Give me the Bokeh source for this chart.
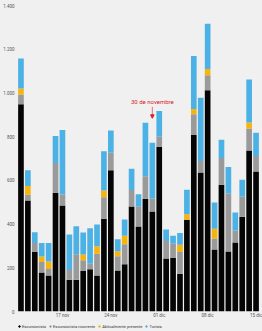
from bokeh.plotting import figure
from bokeh.layouts import column
from bokeh.models import (ColumnDataSource, FixedTicker, Legend, LegendItem,
                          Arrow, NormalHead, Label, Range1d)
from bokeh.embed import file_html
from bokeh.resources import INLINE

dates = ["11 nov", "12 nov", "13 nov", "14 nov", "15 nov", "16 nov", "17 nov",
         "18 nov", "19 nov", "20 nov", "21 nov", "22 nov", "23 nov", "24 nov",
         "25 nov", "26 nov", "27 nov", "28 nov", "29 nov", "30 nov", "01 dic",
         "02 dic", "03 dic", "04 dic", "05 dic", "06 dic", "07 dic", "08 dic",
         "09 dic", "10 dic", "11 dic", "12 dic", "13 dic", "14 dic", "15 dic"]

escursionista = [948, 508, 273, 178, 165, 543, 485, 145, 145, 185, 193, 165,
                 424, 646, 188, 216, 480, 389, 516, 457, 754, 243, 246, 173,
                 420, 807, 636, 1012, 284, 580, 275, 316, 434, 737, 640]
ricorrente = [45, 26, 40, 48, 30, 136, 50, 45, 117, 50, 25, 99,
              99, 80, 65, 92, 76, 90, 103, 60, 46, 80, 64, 99,
              0, 95, 52, 69, 50, 122, 265, 55, 91, 100, 72]
abituale = [27, 40, 0, 26, 34, 0, 0, 0, 0, 26, 0, 35,
            31, 0, 23, 38, 0, 0, 0, 0, 0, 0, 0, 33,
            25, 24, 0, 28, 45, 0, 0, 0, 0, 28, 0]
turista = [137, 72, 50, 61, 84, 124, 295, 162, 128, 100, 163, 99,
           179, 102, 55, 75, 97, 57, 244, 255, 117, 52, 37, 54,
           112, 243, 290, 208, 120, 84, 121, 82, 78, 196, 106]

series_names = ["Escursionista", "Escursionista ricorrente",
                "Abitualmente presente", "Turista"]
series_colors = ["#050505", "#9a9a9a", "#f6b40e", "#4cb2e6"]

tick_dates = ["17 nov", "24 nov", "01 dic", "08 dic", "15 dic"]
y_ticks = [0, 200, 400, 600, 800, 1000, 1200, 1400]

annotation_date = "30 nov"
annotation_text = "30 de novembre"

FONT = "Roboto"
BG = "#f0f0f0"
RED = "#d8202a"

keys = ["esc", "ric", "abi", "tur"]
source = ColumnDataSource(dict(
    x=list(range(len(dates))),
    esc=escursionista, ric=ricorrente, abi=abituale, tur=turista,
))

p = figure(output_backend="svg", toolbar_location=None,
           x_range=Range1d(-0.5, len(dates) - 0.5), y_range=Range1d(0, 1400),
           frame_width=242, frame_height=306,
           min_border_left=16, min_border_right=4, min_border_top=5,
           min_border_bottom=10)
p.background_fill_color = BG
p.border_fill_color = BG
p.outline_line_color = None
p.xgrid.visible = False
p.ygrid.visible = False

p.vbar_stack(keys, x="x", width=0.82, color=series_colors, source=source,
             line_color=None)

# axes
p.yaxis.ticker = FixedTicker(ticks=y_ticks)
p.yaxis.major_label_overrides = {v: f"{v:,}".replace(",", ".") for v in y_ticks}
p.yaxis.axis_line_color = None
p.yaxis.major_tick_line_color = None
p.yaxis.major_tick_out = 0
p.yaxis.major_tick_in = 0
p.yaxis.minor_tick_line_color = None
p.yaxis.minor_tick_out = 0
p.yaxis.minor_tick_in = 0
p.yaxis.major_label_standoff = 3
p.yaxis.major_label_text_font_size = "4.5px"
p.yaxis.major_label_text_color = "#555555"
p.yaxis.major_label_text_font = FONT

xt = [dates.index(d) for d in tick_dates]
p.xaxis.ticker = FixedTicker(ticks=xt)
p.xaxis.major_label_overrides = {i: d for i, d in zip(xt, tick_dates)}
p.xaxis.axis_line_color = None
p.xaxis.major_tick_line_color = None
p.xaxis.major_tick_out = 0
p.xaxis.major_tick_in = 0
p.xaxis.minor_tick_line_color = None
p.xaxis.minor_tick_out = 0
p.xaxis.minor_tick_in = 0
p.xaxis.major_label_standoff = 1
p.xaxis.major_label_text_font_size = "4.5px"
p.xaxis.major_label_text_color = "#555555"
p.xaxis.major_label_text_font = FONT

# annotation
ax = dates.index(annotation_date)
p.add_layout(Label(x=ax, y=960, text=annotation_text, text_color=RED,
                   text_font_size="6px", text_font=FONT, text_align="center",
                   text_baseline="middle"))
p.add_layout(Arrow(end=NormalHead(size=3.5, fill_color=RED, line_color=RED),
                   x_start=ax, y_start=936, x_end=ax, y_end=884,
                   line_color=RED, line_width=0.6))

# legend in its own strip below the chart
lg = figure(width=262, height=10, output_backend="svg", toolbar_location=None,
            x_range=Range1d(0, 1), y_range=Range1d(0, 1),
            min_border=0)
lg.axis.visible = False
lg.grid.visible = False
lg.outline_line_color = None
lg.background_fill_color = BG
lg.border_fill_color = BG

items = []
for name, col in zip(series_names, series_colors):
    r = lg.scatter(x=[-50], y=[-50], marker="circle", size=3.5, color=col)
    items.append(LegendItem(label=name, renderers=[r]))
legend = Legend(items=items, orientation="horizontal", location="center_left",
                glyph_width=4, glyph_height=5, label_height=5,
                label_text_font_size="4px", label_text_font=FONT,
                label_text_color="#333333", label_standoff=1, spacing=2,
                padding=0, margin=0, border_line_color=None,
                background_fill_alpha=0)
lg.add_layout(legend)

layout = column(p, lg, spacing=0, styles={"background-color": BG})

open("out.html", "w").write(file_html(layout, INLINE))
